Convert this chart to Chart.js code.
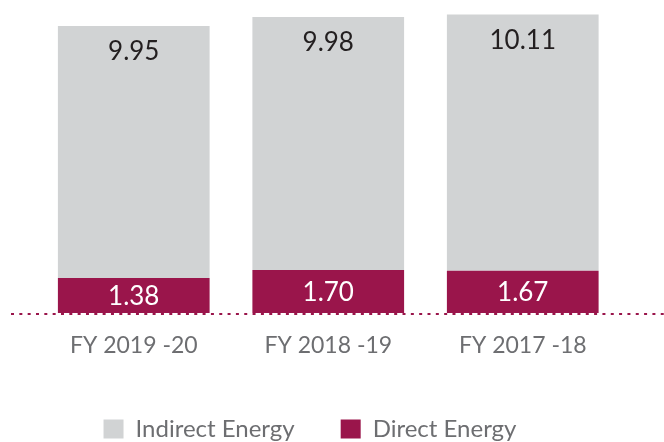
<!DOCTYPE html>
<html>
<head>
<meta charset="utf-8">
<script src="https://cdn.jsdelivr.net/npm/chart.js@4.4.1/dist/chart.umd.min.js"></script>
<style>
  html, body { margin: 0; padding: 0; background: #ffffff; }
  #wrap { width: 664px; height: 442px; position: relative; }
</style>
</head>
<body>
<div id="wrap"><canvas id="energy"></canvas></div>
<script>
// Energy consumption by financial year
const years = ['FY 2019 -20', 'FY 2018 -19', 'FY 2017 -18'];
const directEnergy = [1.38, 1.70, 1.67];
const indirectEnergy = [9.95, 9.98, 10.11];
const seriesNames = ['Direct Energy', 'Indirect Energy'];

const MAROON = '#9a154b';
const GREY = '#d1d3d4';
const TEXT_GREY = '#6d6e71';
const FONT = 'Lato, "Open Sans", sans-serif';

// Dotted baseline across the full width, plus value labels inside each segment
const decorations = {
  id: 'decorations',
  afterDatasetsDraw(chart) {
    const { ctx } = chart;
    const base = chart.scales.y.getPixelForValue(0);
    ctx.save();
    ctx.strokeStyle = MAROON;
    ctx.lineWidth = 2;
    ctx.setLineDash([3, 5.33]);
    ctx.beginPath();
    ctx.moveTo(11, base + 1);
    ctx.lineTo(chart.width, base + 1);
    ctx.stroke();
    ctx.restore();

    ctx.save();
    ctx.font = '26px ' + FONT;
    ctx.textAlign = 'center';
    ctx.textBaseline = 'middle';
    chart.data.datasets.forEach((ds, di) => {
      const meta = chart.getDatasetMeta(di);
      meta.data.forEach((bar, i) => {
        const txt = ds.data[i].toFixed(2);
        if (di === 0) {
          ctx.fillStyle = '#ffffff';
          ctx.fillText(txt, bar.x, (bar.y + bar.base) / 2 + 1);
        } else {
          ctx.fillStyle = '#231f20';
          ctx.fillText(txt, bar.x, bar.y + 26);
        }
      });
    });
    ctx.restore();
  }
};

new Chart(document.getElementById('energy'), {
  type: 'bar',
  data: {
    labels: years,
    datasets: [
      { label: seriesNames[0], data: directEnergy, backgroundColor: MAROON, borderWidth: 0 },
      { label: seriesNames[1], data: indirectEnergy, backgroundColor: GREY, borderWidth: 0 }
    ]
  },
  options: {
    responsive: true,
    maintainAspectRatio: false,
    animation: false,
    layout: { padding: { left: 0, right: 44, top: 9, bottom: -9 } },
    datasets: { bar: { barPercentage: 0.78, categoryPercentage: 1.0 } },
    scales: {
      x: {
        stacked: true,
        grid: { display: false, drawTicks: false },
        border: { display: false },
        ticks: { color: TEXT_GREY, font: { family: FONT, size: 23 }, padding: 19 },
        afterFit(scale) { scale.height = 58; }
      },
      y: {
        stacked: true,
        min: 0,
        max: 12,
        grid: { display: false, drawTicks: false },
        border: { display: false },
        ticks: { display: false },
        afterFit(scale) { scale.width = 36.5; }
      }
    },
    plugins: {
      legend: {
        position: 'bottom',
        reverse: true,
        labels: {
          color: TEXT_GREY,
          font: { family: FONT, size: 24 },
          boxWidth: 20,
          boxHeight: 19,
          padding: 46
        }
      },
      tooltip: { enabled: false }
    }
  },
  plugins: [decorations]
});
</script>
</body>
</html>
